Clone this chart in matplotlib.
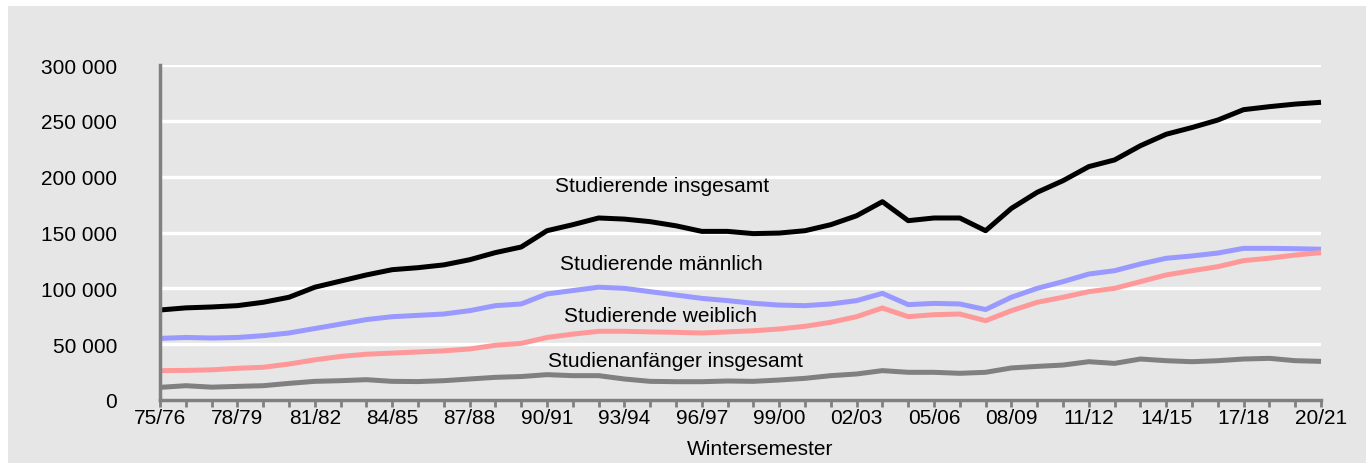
import matplotlib
matplotlib.use("Agg")
import matplotlib.pyplot as plt
from matplotlib.patches import Rectangle
from matplotlib.ticker import FuncFormatter

plt.rcParams['font.family'] = ['Liberation Sans', 'DejaVu Sans']

semesters = [f"{(75 + i) % 100:02d}/{(76 + i) % 100:02d}" for i in range(46)]

studierende_insgesamt = [
    80.6, 82.5, 83.3, 84.5, 87.5, 92.0, 101.0, 106.5, 112.0, 116.7,
    118.5, 121.0, 125.6, 132.0, 137.0, 151.6, 157.0, 163.0, 162.0, 159.7,
    156.0, 151.0, 151.0, 149.0, 149.5, 151.6, 157.0, 165.0, 177.6, 160.6,
    163.0, 163.0, 151.6, 171.6, 186.0, 196.4, 209.0, 215.0, 227.7, 238.0,
    244.0, 250.7, 260.0, 262.7, 265.0, 266.6]
studierende_maennlich = [
    55.2, 56.0, 55.5, 56.0, 57.6, 60.0, 64.0, 68.0, 72.0, 74.6,
    75.8, 77.0, 80.0, 84.5, 86.0, 95.0, 98.0, 101.0, 100.0, 97.0,
    94.0, 91.0, 89.0, 86.6, 85.0, 84.5, 86.0, 89.0, 95.5, 85.4,
    86.5, 86.0, 81.0, 92.0, 100.0, 106.0, 112.8, 115.8, 121.8, 126.9,
    129.0, 131.6, 135.8, 135.8, 135.5, 135.0]
studierende_weiblich = [
    26.3, 26.5, 27.0, 28.4, 29.3, 32.2, 36.0, 39.0, 41.0, 42.0,
    43.0, 44.0, 45.7, 49.0, 50.7, 56.0, 59.0, 61.5, 61.5, 61.0,
    60.6, 60.0, 61.0, 62.0, 63.6, 66.0, 69.6, 74.6, 82.4, 74.6,
    76.4, 77.0, 71.0, 80.0, 87.5, 92.0, 97.0, 100.0, 106.0, 112.0,
    115.8, 119.4, 124.8, 127.0, 129.8, 132.0]
studienanfaenger = [
    11.3, 12.8, 11.5, 12.2, 12.8, 14.9, 16.7, 17.3, 18.2, 16.7,
    16.5, 17.3, 18.8, 20.3, 21.0, 22.7, 21.8, 21.8, 18.8, 16.7,
    16.4, 16.4, 17.0, 16.7, 17.9, 19.4, 21.8, 23.3, 26.3, 24.8,
    24.8, 23.9, 24.8, 28.7, 30.1, 31.3, 34.3, 32.8, 36.7, 35.2,
    34.3, 35.2, 36.7, 37.3, 35.2, 34.6]

series_names = ["Studierende insgesamt", "Studierende männlich",
                "Studierende weiblich", "Studienanfänger insgesamt"]
y_ticks = [0, 50000, 100000, 150000, 200000, 250000, 300000]
x_label = "Wintersemester"

W, H = 1370, 464
FS = 15
fig = plt.figure(figsize=(W / 100, H / 100), dpi=100, facecolor="white")
fig.patches.append(Rectangle((8 / W, 0), (1366 - 8) / W, (H - 7) / H,
                             transform=fig.transFigure, facecolor="#e6e6e6",
                             edgecolor="none", zorder=-10))

ax = fig.add_axes([160 / W, 1 - 401 / H, (1321 - 160) / W, (401 - 66) / H])
ax.set_zorder(1)
ax.set_facecolor("#e6e6e6")

x = list(range(len(semesters)))
data = [studierende_insgesamt, studierende_maennlich, studierende_weiblich, studienanfaenger]
colors = ["#000000", "#9999ff", "#ff9999", "#808080"]
for vals, col in zip(data, colors):
    ax.plot(x, [v * 1000 for v in vals], color=col, lw=3.6, solid_joinstyle="round",
            solid_capstyle="butt", zorder=3, clip_on=False)

ax.set_xlim(0, len(semesters) - 1)
ax.set_ylim(0, 300000)
ax.set_yticks(y_ticks)
ax.yaxis.set_major_formatter(FuncFormatter(lambda v, p: f"{int(v):,}".replace(",", " ")))
ax.yaxis.grid(True, color="white", lw=2.4, zorder=1)
ax.set_axisbelow(True)
ax.tick_params(axis="y", length=0, pad=31, labelsize=FS)

ax.set_xticks(x)
ax.set_xticklabels([s if i % 3 == 0 else "" for i, s in enumerate(semesters)])
ax.tick_params(axis="x", length=5, width=2, color="#808080", pad=1, labelsize=FS)

for side in ["top", "right"]:
    ax.spines[side].set_visible(False)
for side in ["left", "bottom"]:
    ax.spines[side].set_color("#808080")
    ax.spines[side].set_linewidth(2.5)
    ax.spines[side].set_zorder(4)

ax.set_xlabel(x_label, fontsize=FS, va="center")
ax.xaxis.set_label_coords((760 - 160) / 1161, (401 - 450) / 335)

label_pos = [(662, 187), (661, 264), (660, 317), (675, 362)]
for name, (px, py) in zip(series_names, label_pos):
    fig.text(px / W, 1 - py / H, name, ha="center", va="center", fontsize=FS)

fig.savefig("out.png", dpi=100, facecolor="white")
